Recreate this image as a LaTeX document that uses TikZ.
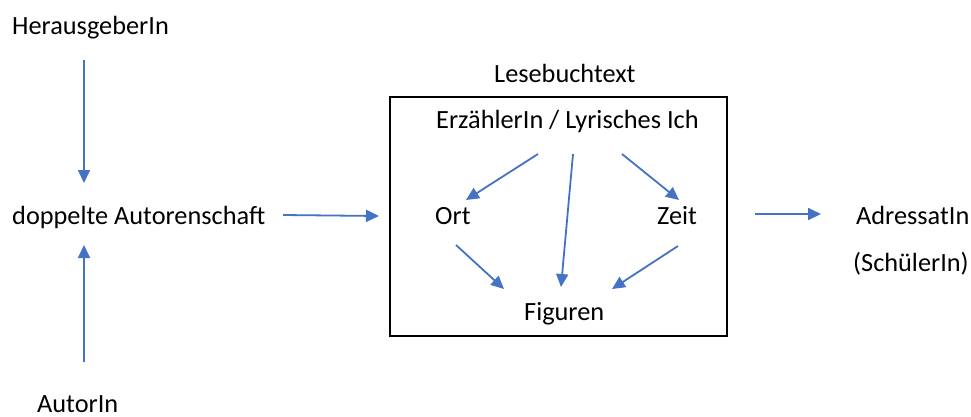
\documentclass[tikz,border=0pt]{standalone}
\usepackage{fontspec}
\setmainfont{Carlito}
\usetikzlibrary{arrows.meta}
\definecolor{arrowblue}{RGB}{68,114,196}
\tikzset{
  lbl/.style={inner sep=0pt, anchor=base west, font=\fontsize{26.3}{30}\selectfont},
  conn/.style={draw=arrowblue, line width=1.8pt, -{Triangle[length=13pt,width=12pt]}},
  frame/.style={draw=black, line width=1.8pt}
}
\begin{document}
\begin{tikzpicture}[x=1pt,y=-1pt]
\useasboundingbox (0,0) rectangle (971,416);
% texts
\node[lbl] (her) at (12,34) {HerausgeberIn};
\node[lbl] (dop) at (12,224) {doppelte Autorenschaft};
\node[lbl] (aut) at (37,412) {AutorIn};
\node[lbl] (les) at (494,82) {Lesebuchtext};
\node[lbl] (erz) at (436,128) {ErzählerIn / Lyrisches Ich};
\node[lbl] (ort) at (435,224) {Ort};
\node[lbl] (zeit) at (657,224) {Zeit};
\node[lbl] (fig) at (524,320) {Figuren};
\node[lbl] (adr) at (856,224) {AdressatIn};
\node[lbl] (sch) at (853,271) {(SchülerIn)};
% box
\node[frame, inner sep=0pt, minimum width=337pt, minimum height=239pt, anchor=north west] (box) at (389,96) {};
% coordinates
\coordinate (h1) at (84,60);  \coordinate (h2) at (84,183);
\coordinate (a1) at (84,362); \coordinate (a2) at (84,245);
\coordinate (d1) at (283,215); \coordinate (d2) at (379,216);
\coordinate (r1) at (755,214); \coordinate (r2) at (821,214);
\coordinate (e1) at (538,154); \coordinate (e1t) at (466,200);
\coordinate (e2) at (573,154); \coordinate (e2t) at (561,287);
\coordinate (e3) at (622,154); \coordinate (e3t) at (679,200);
\coordinate (o1) at (456,245); \coordinate (o1t) at (504,289);
\coordinate (z1) at (678,246); \coordinate (z1t) at (612,289);
% connectors
\draw[conn] (h1) -- (h2);
\draw[conn] (a1) -- (a2);
\draw[conn] (d1) -- (d2);
\draw[conn] (r1) -- (r2);
\draw[conn] (e1) -- (e1t);
\draw[conn] (e2) -- (e2t);
\draw[conn] (e3) -- (e3t);
\draw[conn] (o1) -- (o1t);
\draw[conn] (z1) -- (z1t);
\end{tikzpicture}
\end{document}
